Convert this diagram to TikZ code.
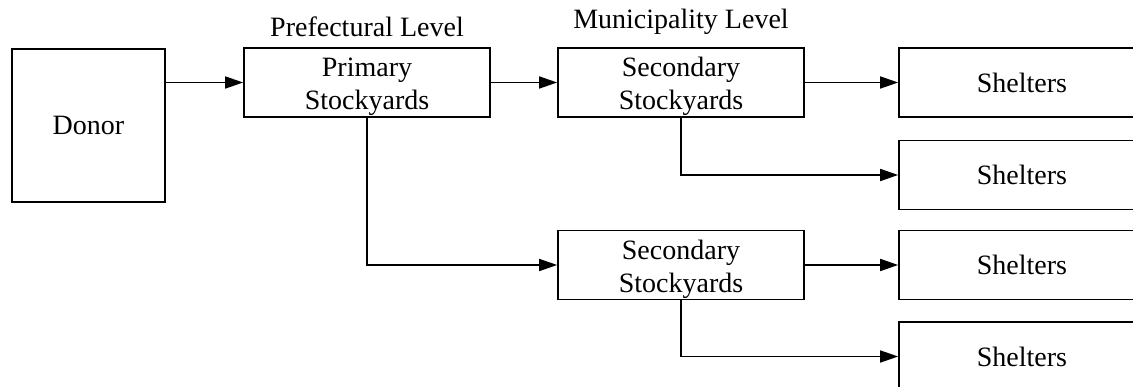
\documentclass[tikz,border=0pt]{standalone}
\usepackage{fontspec}
\setmainfont{Liberation Serif}
\usetikzlibrary{arrows.meta}
\newcommand{\toppad}{\rule{0pt}{28pt}}
\begin{document}
\begin{tikzpicture}[x=1pt,y=-1pt,
  box/.style={draw,line width=1.7pt,inner sep=0pt,align=center,minimum width=246pt,minimum height=69pt,font=\fontsize{28}{33}\selectfont},
  lbl/.style={inner sep=0pt,font=\fontsize{28}{34}\selectfont},
  conn/.style={line width=1.7pt,-{Triangle[length=18pt,width=12pt]}}]
\useasboundingbox (0,0) rectangle (1133,387);
\node[box,minimum width=153pt,minimum height=153pt] (donor) at (88.5,125.5) {Donor};
\node[box] (prim) at (367,82.5) {\toppad Primary\\Stockyards};
\node[box] (sec1) at (681,82.5) {\toppad Secondary\\Stockyards};
\node[box] (sec2) at (681,265) {\toppad Secondary\\Stockyards};
\node[box] (sh1) at (1022,82.5) {Shelters};
\node[box] (sh2) at (1022,175) {Shelters};
\node[box] (sh3) at (1022,265) {Shelters};
\node[box] (sh4) at (1022,356.5) {Shelters};
\node[lbl] (pl) at (367,27) {Prefectural Level};
\node[lbl] (ml) at (681,22) {Municipality Level};
\draw[conn] (donor.east |- prim.west) -- (prim.west);
\draw[conn] (prim.east) -- (sec1.west);
\draw[conn] (sec1.east) -- (sh1.west);
\draw[conn] (sec1.south) -- (sec1.south |- sh2.west) -- (sh2.west);
\draw[conn] (prim.south) -- (prim.south |- sec2.west) -- (sec2.west);
\draw[conn] (sec2.east) -- (sh3.west);
\draw[conn] (sec2.south) -- (sec2.south |- sh4.west) -- (sh4.west);
\end{tikzpicture}
\end{document}
